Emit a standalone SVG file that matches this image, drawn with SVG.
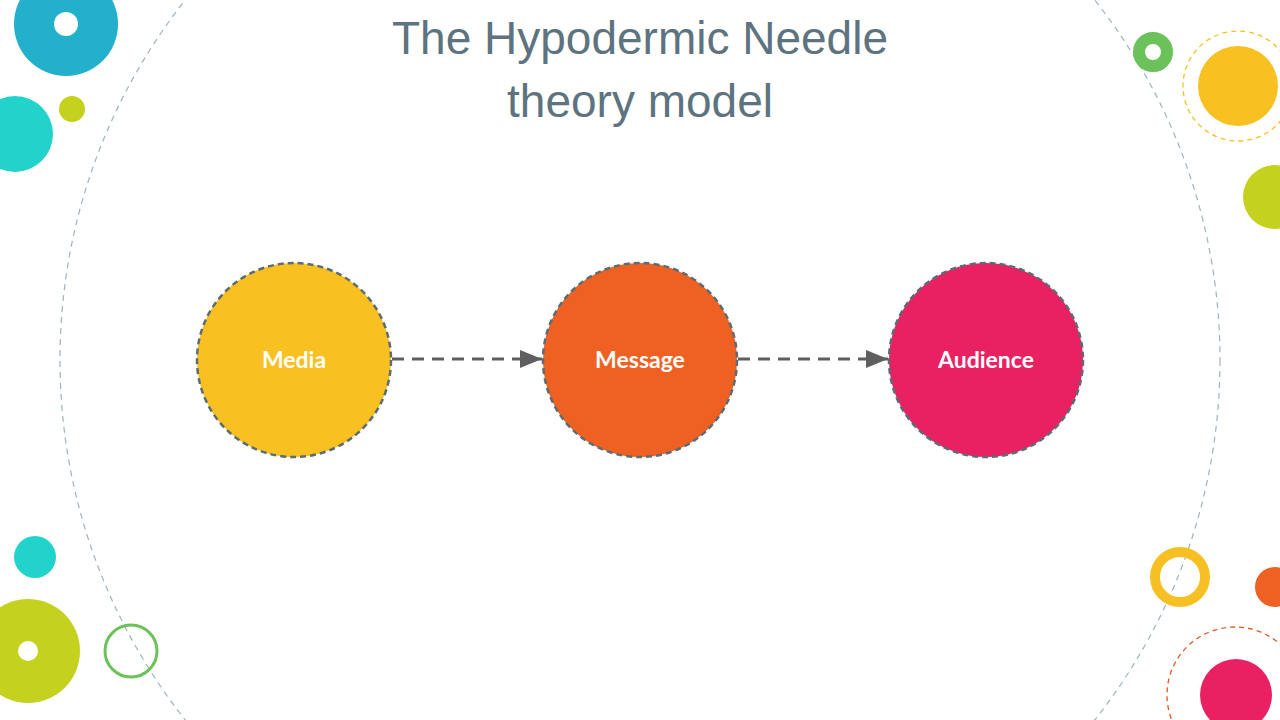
<svg xmlns="http://www.w3.org/2000/svg" width="1280" height="720" viewBox="0 0 1280 720">
<style>
.t{font-family:"Liberation Sans","DejaVu Sans",sans-serif;font-size:46px;fill:#5d7380;text-anchor:middle}
.n{stroke:#5d6b73;stroke-width:2.5;stroke-dasharray:6 4}
.l{font-family:"Lato","Noto Sans",sans-serif;font-size:23px;font-weight:bold;fill:#fff;text-anchor:middle}
.c{stroke:#5f5f5f;stroke-width:3;stroke-dasharray:12 8;fill:none}
</style>
<defs><marker id="a" markerWidth="10" markerHeight="10" refX="9" refY="5" orient="auto" markerUnits="userSpaceOnUse"><path d="M0,-3 L22,5 L0,13z" transform="scale(0.45) translate(0,6)" fill="#5f5f5f"/></marker>
<marker id="b" viewBox="0 0 10 10" refX="10" refY="5" markerWidth="22" markerHeight="18" orient="auto" markerUnits="userSpaceOnUse" preserveAspectRatio="none"><path d="M0,0 L10,5 L0,10z" fill="#5f5f5f"/></marker></defs>
<g id="background">
<circle cx="640" cy="360" r="580" fill="none" stroke="#9fb2c0" stroke-width="1.2" stroke-dasharray="6 5"/>
<circle cx="66" cy="24" r="52" fill="#23b0cb"/><circle cx="66" cy="24" r="12" fill="#fff"/>
<circle cx="15" cy="134" r="38" fill="#22d3cb"/>
<circle cx="72" cy="109" r="13" fill="#c4d21f"/>
<circle cx="35" cy="557" r="21" fill="#22d3cb"/>
<circle cx="28" cy="651" r="52" fill="#c4d21f"/><circle cx="28" cy="651" r="10" fill="#fff"/>
<circle cx="131" cy="651" r="26" fill="none" stroke="#6cc25a" stroke-width="3"/>
<circle cx="1153" cy="52" r="14" fill="none" stroke="#6cc25a" stroke-width="12"/>
<circle cx="1238" cy="86" r="55" fill="none" stroke="#f6c023" stroke-width="1.3" stroke-dasharray="5 4"/>
<circle cx="1238" cy="86" r="40" fill="#f8c020"/>
<circle cx="1275" cy="197" r="32" fill="#c4d21f"/>
<circle cx="1180" cy="577" r="25" fill="none" stroke="#f6c023" stroke-width="10"/>
<circle cx="1275" cy="587" r="20" fill="#ef6123"/>
<circle cx="1235" cy="695" r="68" fill="none" stroke="#e05a20" stroke-width="1.3" stroke-dasharray="5 4"/>
<circle cx="1236" cy="695" r="36" fill="#e92163"/>
</g>
<g id="title"><text class="t" x="640" y="54">The Hypodermic Needle</text><text class="t" x="640" y="117">theory model</text></g>
<g id="connectors">
<line class="c" x1="392" y1="359" x2="542" y2="359" marker-end="url(#b)"/>
<line class="c" x1="738" y1="359" x2="888" y2="359" marker-end="url(#b)"/>
</g>
<g id="media"><circle class="n" cx="294" cy="360" r="97" fill="#f8c020"/><text class="l" x="294" y="368">Media</text></g>
<g id="message"><circle class="n" cx="640" cy="360" r="97" fill="#ef6123"/><text class="l" x="640" y="368">Message</text></g>
<g id="audience"><circle class="n" cx="986" cy="360" r="97" fill="#e92163"/><text class="l" x="986" y="368">Audience</text></g>
</svg>
